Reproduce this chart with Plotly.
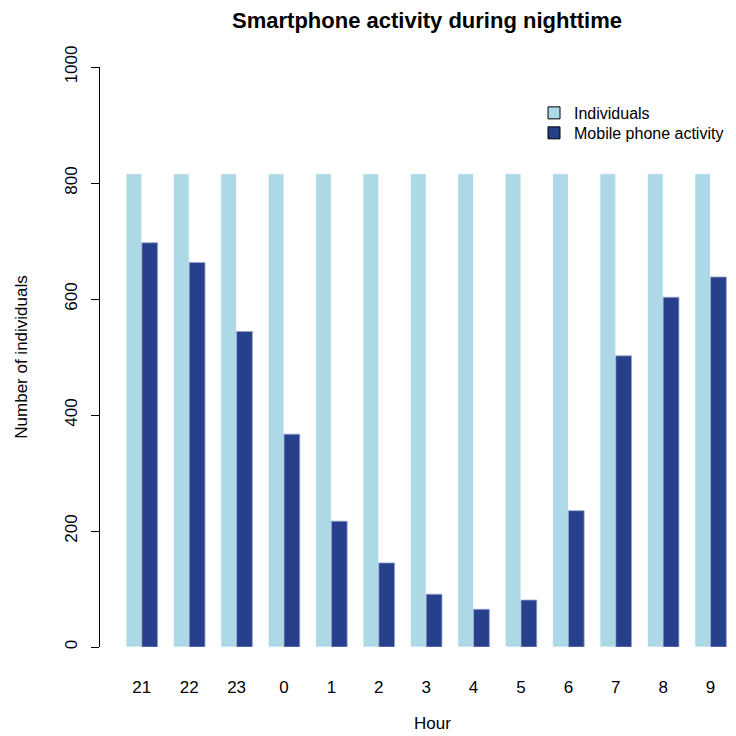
import plotly.graph_objects as go

hours = ["21", "22", "23", "0", "1", "2", "3", "4", "5", "6", "7", "8", "9"]
individuals = [816, 816, 816, 816, 816, 816, 816, 816, 816, 816, 816, 816, 816]
mobile_activity = [697, 663, 544, 367, 217, 145, 91, 65, 81, 235, 502, 603, 638]
y_ticks = [0, 200, 400, 600, 800, 1000]

LIGHT = "#ADD8E6"
DARK = "#27408B"
FONT = "Liberation Sans, Arial, Helvetica, sans-serif"

# the page body has an 8px margin, so the figure is 728x728 placed at (8, 8)
W, H = 728, 728
L, R, T, B = 92, 0, 58.5, 88.7
pw = W - L - R
ph = H - T - B


def px_x(x):
    return (x - L) / pw


def px_y(y):
    return 1 - (y - T) / ph


fig = go.Figure()
fig.add_trace(go.Bar(x=hours, y=individuals, name="Individuals",
                     marker=dict(color=LIGHT, line=dict(color="white", width=0.8)),
                     showlegend=False))
fig.add_trace(go.Bar(x=hours, y=mobile_activity, name="Mobile phone activity",
                     marker=dict(color=DARK, line=dict(color="#9aa6d0", width=0.8)),
                     showlegend=False))
# legend swatches (black-bordered squares as in the original)
for name, col, leg in [("Individuals", LIGHT, "legend"), ("Mobile phone activity", DARK, "legend2")]:
    fig.add_trace(go.Scatter(x=[None], y=[None], mode="markers", name=name, legend=leg,
                             marker=dict(symbol="square", size=12, color=col,
                                         line=dict(color="black", width=1))))

leg_common = dict(xanchor="left", yanchor="top", bgcolor="rgba(0,0,0,0)", borderwidth=0,
                  font=dict(size=16, family=FONT, color="black"), itemsizing="trace")

fig.update_layout(
    width=W, height=H,
    margin=dict(l=L, r=R, t=T, b=B, autoexpand=False),
    paper_bgcolor="white", plot_bgcolor="white",
    font=dict(family=FONT, size=17, color="black"),
    barmode="group", bargap=1/3, bargroupgap=0,
    title=dict(text="<b>Smartphone activity during nighttime</b>",
               font=dict(size=22, family=FONT, color="black"),
               xref="paper", x=px_x(419), xanchor="center",
               yref="container", y=1 - 12 / H, yanchor="middle"),
    legend=dict(x=px_x(526), y=px_y(87.5), **leg_common),
    legend2=dict(x=px_x(526), y=px_y(107.5), **leg_common),
    xaxis=dict(type="category", range=[-0.882, 12.537], showline=False,
               showgrid=False, zeroline=False, ticks="", ticklabelstandoff=28,
               tickfont=dict(size=17)),
    yaxis=dict(range=[0, 1000], tickvals=y_ticks, ticktext=[str(v) for v in y_ticks],
               tickangle=-90, showline=True, linecolor="black", linewidth=1,
               ticks="outside", ticklen=8, tickcolor="black", tickwidth=1,
               ticklabelstandoff=7,
               showgrid=False, zeroline=False, tickfont=dict(size=17),
               title=dict(text="Number of individuals", font=dict(size=17), standoff=30),
               automargin=False),
    annotations=[dict(text="Hour", xref="paper", yref="paper",
                      x=px_x(424), y=px_y(716),
                      xanchor="center", yanchor="middle", showarrow=False,
                      font=dict(size=17, family=FONT))],
)

fig.write_html("out.html")
